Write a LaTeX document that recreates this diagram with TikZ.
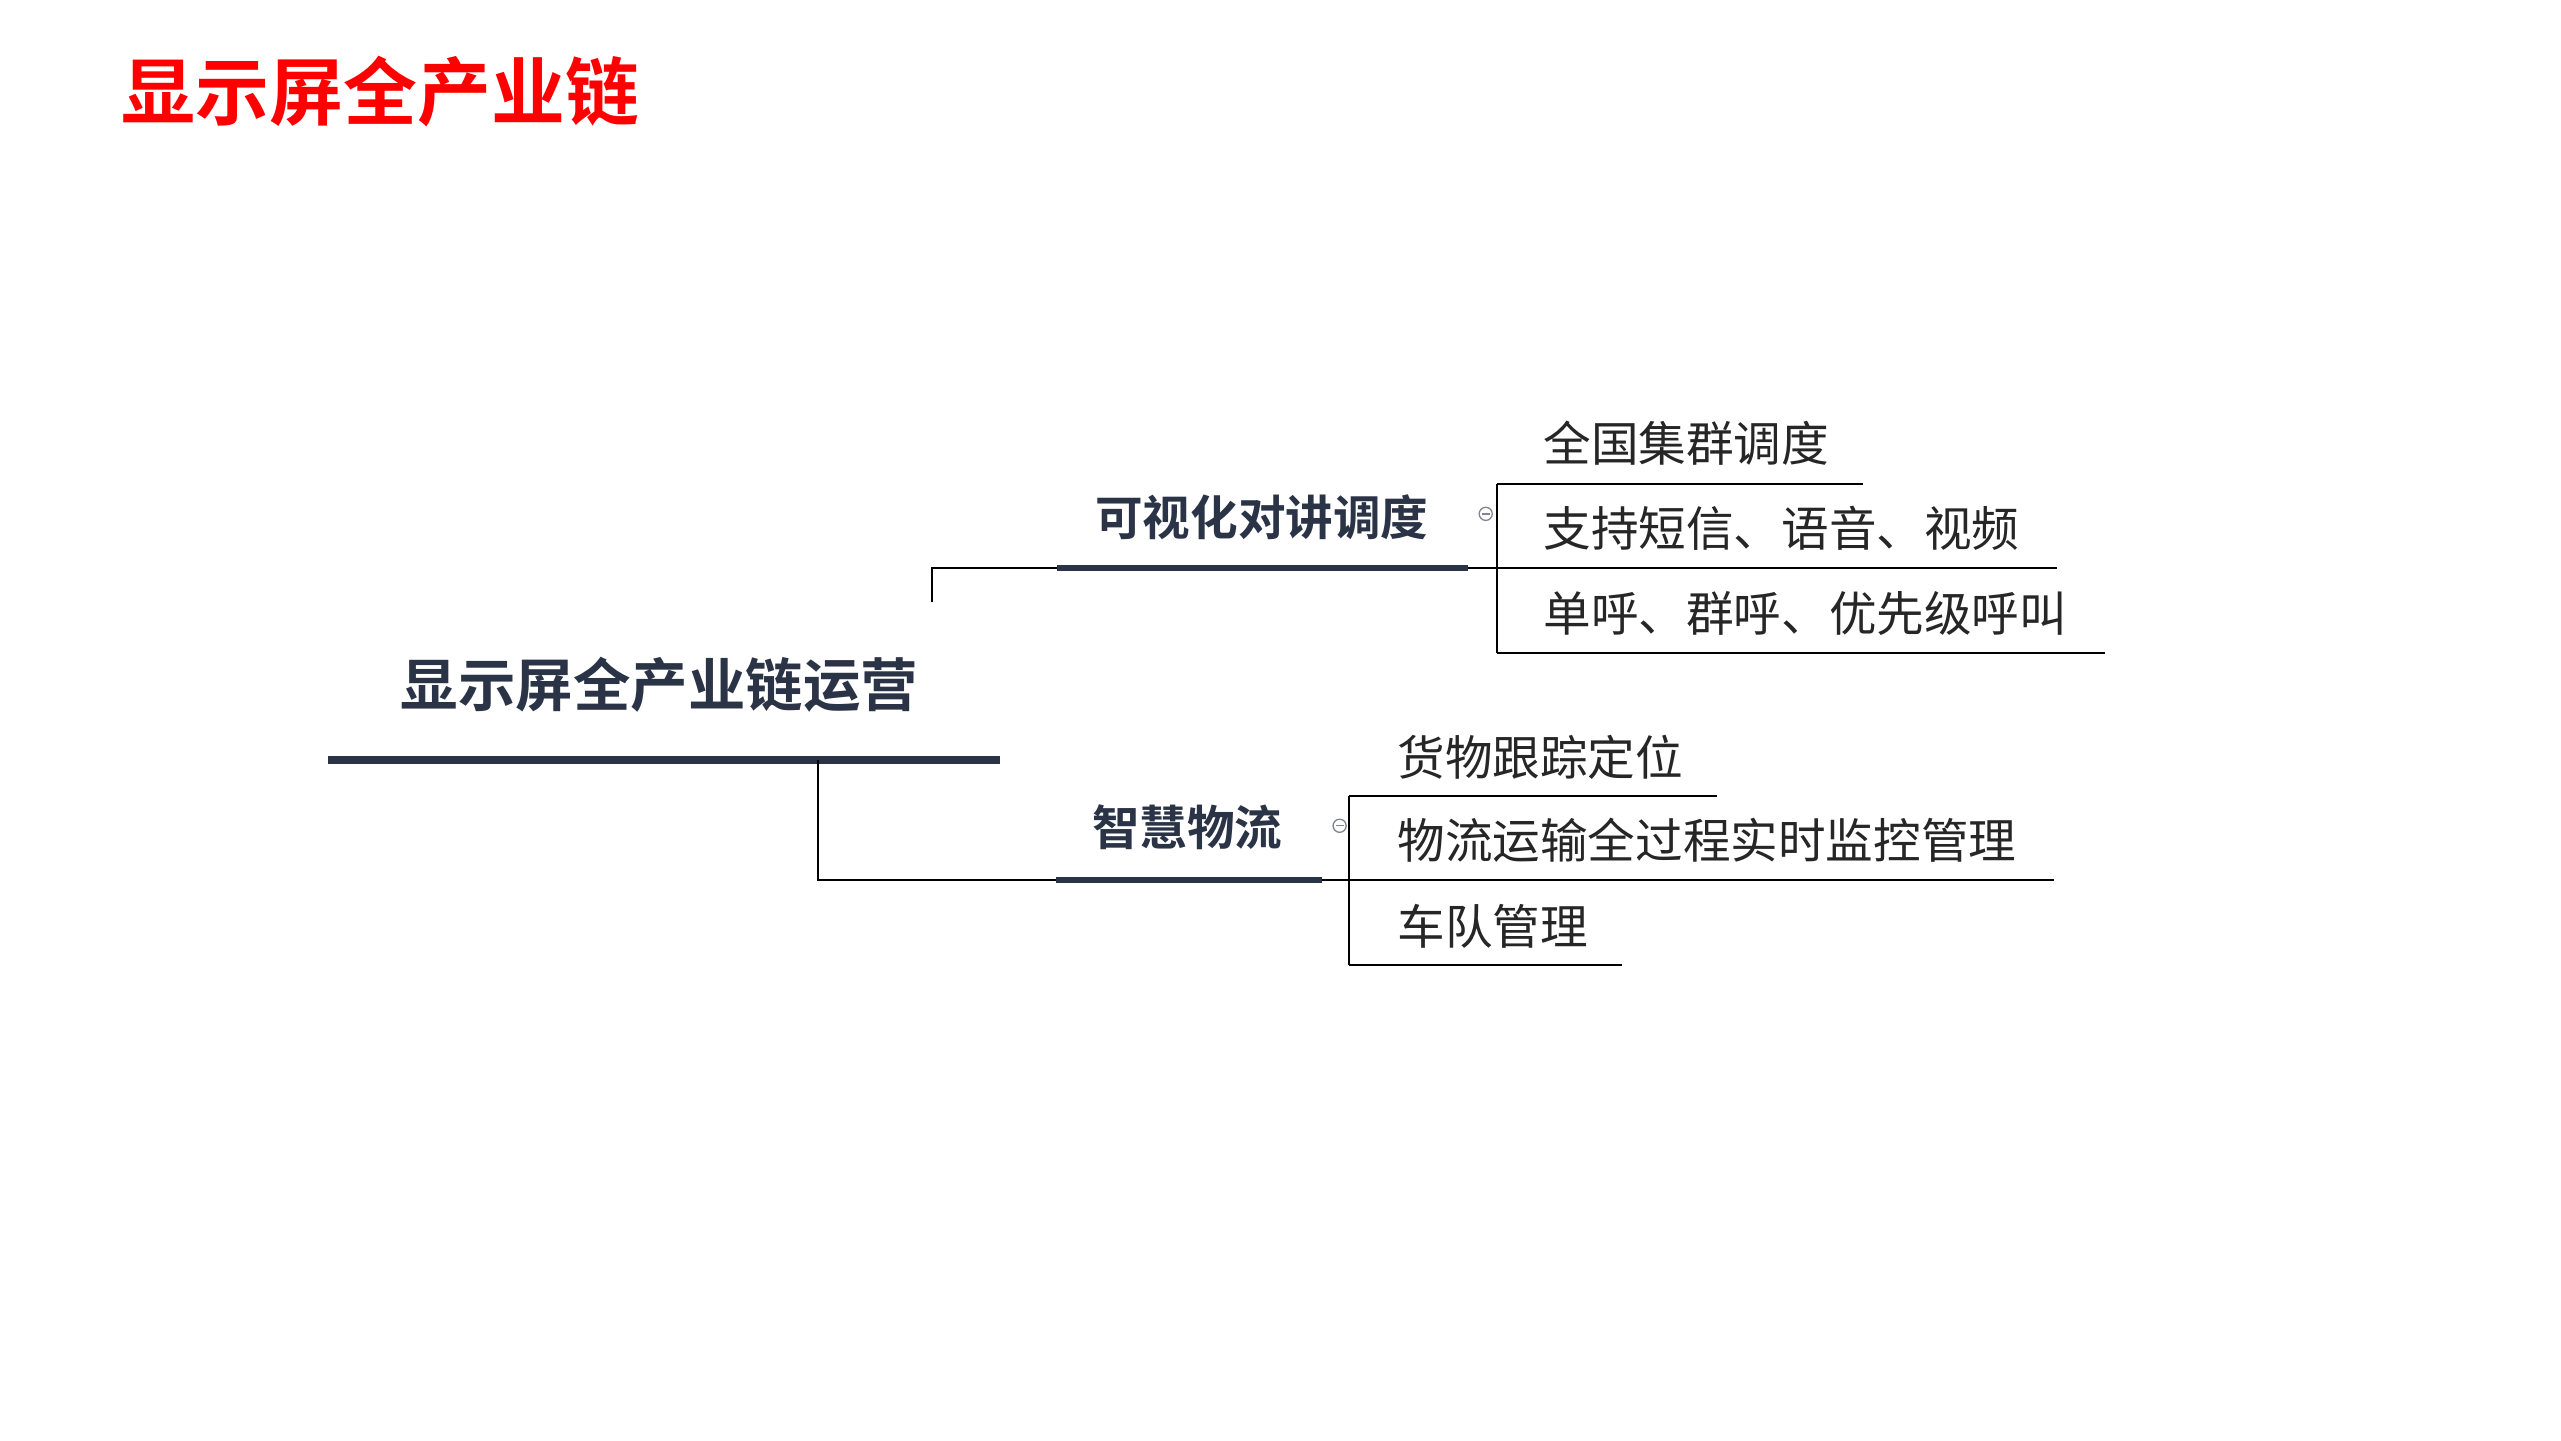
\documentclass[tikz,border=0pt]{standalone}
\usepackage{fontspec}
\newfontfamily\cjk{Noto Sans CJK SC}
\newfontfamily\cjkb{Noto Sans CJK SC Bold}
\definecolor{navy}{HTML}{2B3446}
\definecolor{thin}{HTML}{4A5060}
\begin{document}
\begin{tikzpicture}[x=1pt,y=-1pt,
  leaf/.style={anchor=west,inner sep=0pt,font=\cjk\fontsize{29}{29}\selectfont,text=black!85},
  mid/.style={anchor=west,inner sep=0pt,font=\cjkb\fontsize{29}{29}\selectfont,text=navy},
  ln/.style={thin,line width=1.2pt},
  thick/.style={navy,line width=4pt}]
\useasboundingbox (0,0) rectangle (1560,877.5);
\node[anchor=west,inner sep=0pt,font=\cjkb\fontsize{45}{45}\selectfont,text=red] (title) at (74,56) {显示屏全产业链};
\node[mid,font=\cjkb\fontsize{35}{35}\selectfont] (root) at (244,417) {显示屏全产业链运营};
\coordinate (r1) at (200,463); \coordinate (r2) at (609,463);
\draw[thick,line width=5pt] (r1) -- (r2);
\node[mid] (b1) at (667,315) {可视化对讲调度};
\node[mid] (b2) at (665,504) {智慧物流};
\coordinate (b1a) at (644,346); \coordinate (b1b) at (894,346);
\coordinate (b2a) at (643,536); \coordinate (b2b) at (805,536);
\draw[thick] (b1a) -- (b1b);
\draw[thick] (b2a) -- (b2b);
\draw[ln] (568,367) -- (568,346) -- (b1a);
\draw[ln] (498,463) -- (498,536) -- (b2a);
\draw[thin!70,line width=0.8pt] (905,313) circle (4); \draw[thin!70,line width=0.8pt] (902.5,313) -- (907.5,313);
\draw[thin!70,line width=0.8pt] (816,503) circle (4); \draw[thin!70,line width=0.8pt] (813.5,503) -- (818.5,503);
% branch1 leaves
\draw[ln] (b1b) -- (912,346);
\draw[ln] (912,295) -- (912,398);
\node[leaf] (l11) at (940,270) {全国集群调度};
\node[leaf] (l12) at (940,322) {支持短信、语音、视频};
\node[leaf] (l13) at (940,374) {单呼、群呼、优先级呼叫};
\draw[ln] (912,295) -- (1135,295);
\draw[ln] (912,346) -- (1253,346);
\draw[ln] (912,398) -- (1282,398);
% branch2 leaves
\draw[ln] (b2b) -- (822,536);
\draw[ln] (822,485) -- (822,588);
\node[leaf] (l21) at (851,461) {货物跟踪定位};
\node[leaf] (l22) at (851,512) {物流运输全过程实时监控管理};
\node[leaf] (l23) at (851,564) {车队管理};
\draw[ln] (822,485) -- (1046,485);
\draw[ln] (822,536) -- (1251,536);
\draw[ln] (822,588) -- (988,588);
\end{tikzpicture}
\end{document}
